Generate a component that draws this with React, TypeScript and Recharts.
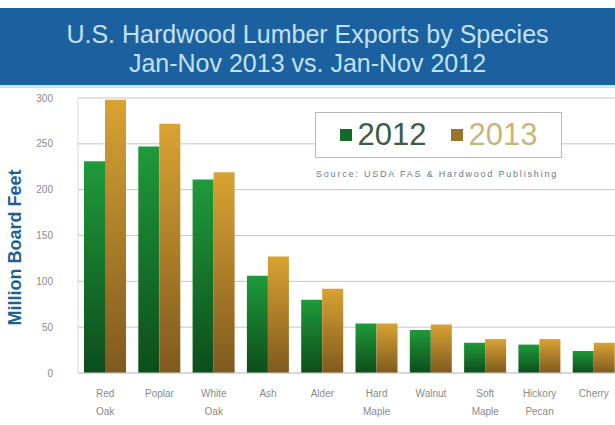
import { BarChart, Bar, XAxis, YAxis, CartesianGrid } from "recharts";

const species = [
  "Red Oak",
  "Poplar",
  "White Oak",
  "Ash",
  "Alder",
  "Hard Maple",
  "Walnut",
  "Soft Maple",
  "Hickory Pecan",
  "Cherry",
];
const exports2012 = [231, 247, 211, 106, 80, 54, 47, 33, 31, 24];
const exports2013 = [298, 272, 219, 127, 92, 54, 53, 37, 37, 33];
const yTicks = [0, 50, 100, 150, 200, 250, 300];

const data = species.map((name, i) => ({
  name,
  y2012: exports2012[i],
  y2013: exports2013[i],
}));

const SpeciesTick = (props: any) => {
  const { x, y, payload } = props;
  const words = String(payload.value).split(" ");
  return (
    <g transform={`translate(${x},${y})`}>
      {words.map((w: string, i: number) => (
        <text
          key={i}
          x={0}
          y={0}
          dy={16 + i * 18}
          textAnchor="middle"
          fill="#8a8a8a"
          fontSize={10}
          fontFamily="Liberation Sans, Arial, sans-serif"
        >
          {w}
        </text>
      ))}
    </g>
  );
};

const AxisTitle = (props: any) => {
  const { viewBox } = props;
  const cx = 16;
  const cy = viewBox.y + viewBox.height / 2 + 12;
  return (
    <text
      x={cx}
      y={cy}
      transform={`rotate(-90, ${cx}, ${cy})`}
      textAnchor="middle"
      dominantBaseline="middle"
      fill="#1f5f96"
      fontSize={18}
      fontWeight="bold"
      fontFamily="Liberation Sans, Arial, sans-serif"
    >
      Million Board Feet
    </text>
  );
};

export default function App() {
  return (
    <div
      style={{
        position: "absolute",
        left: 0,
        top: 0,
        width: 615,
        height: 425,
        overflow: "hidden",
        background: "#fff",
        fontFamily: "Liberation Sans, Arial, sans-serif",
      }}
    >
      <div
        style={{
          position: "absolute",
          left: 0,
          top: 8,
          width: 615,
          height: 80,
          background: "#1b61a0",
          borderBottom: "3px solid #c4e6f0",
          color: "#c4e2f6",
          fontSize: 25,
          lineHeight: "29px",
          textAlign: "center",
          paddingTop: 12,
          boxSizing: "border-box",
        }}
      >
        U.S. Hardwood Lumber Exports by Species
        <br />
        Jan-Nov 2013 vs. Jan-Nov 2012
      </div>
      <div style={{ position: "absolute", left: 0, top: 0 }}>
        <BarChart
          width={650}
          height={425}
          data={data}
          margin={{ top: 98, right: 29, bottom: 22, left: 0 }}
          barCategoryGap={6}
          barGap={0}
        >
          <defs>
            <linearGradient id="g2012" x1="0" y1="0" x2="0" y2="1">
              <stop offset="0%" stopColor="#1f9a3a" />
              <stop offset="100%" stopColor="#0c4d1c" />
            </linearGradient>
            <linearGradient id="g2013" x1="0" y1="0" x2="0" y2="1">
              <stop offset="0%" stopColor="#d9a233" />
              <stop offset="100%" stopColor="#7f5a1e" />
            </linearGradient>
          </defs>
          <CartesianGrid vertical={false} stroke="#c6c6c6" />
          <XAxis
            dataKey="name"
            interval={0}
            tick={<SpeciesTick />}
            tickLine={false}
            axisLine={{ stroke: "#cfcfcf" }}
          />
          <YAxis
            width={78}
            domain={[0, 300]}
            ticks={yTicks}
            tickLine={false}
            tickMargin={19}
            axisLine={{ stroke: "#d8d8d8" }}
            tick={{ fill: "#8a8a8a", fontSize: 10 }}
            label={<AxisTitle />}
          />
          <Bar dataKey="y2012" fill="url(#g2012)" isAnimationActive={false} />
          <Bar dataKey="y2013" fill="url(#g2013)" isAnimationActive={false} />
        </BarChart>
      </div>
      <div
        style={{
          position: "absolute",
          left: 315,
          top: 112,
          width: 245,
          height: 44,
          border: "1px solid #b8b8b8",
          background: "#fff",
          display: "flex",
          alignItems: "center",
          justifyContent: "center",
          fontSize: 31,
        }}
      >
        <span style={{ width: 12, height: 12, background: "#136b2a", marginRight: 6 }} />
        <span style={{ color: "#3e5a48", marginRight: 24 }}>2012</span>
        <span style={{ width: 12, height: 12, background: "#9a7428", marginRight: 6 }} />
        <span style={{ color: "#c9b47a" }}>2013</span>
      </div>
      <div
        style={{
          position: "absolute",
          left: 316,
          top: 169,
          fontSize: 9,
          letterSpacing: 1.8,
          color: "#6a7a8a",
        }}
      >
        Source: USDA FAS &amp; Hardwood Publishing
      </div>
    </div>
  );
}
